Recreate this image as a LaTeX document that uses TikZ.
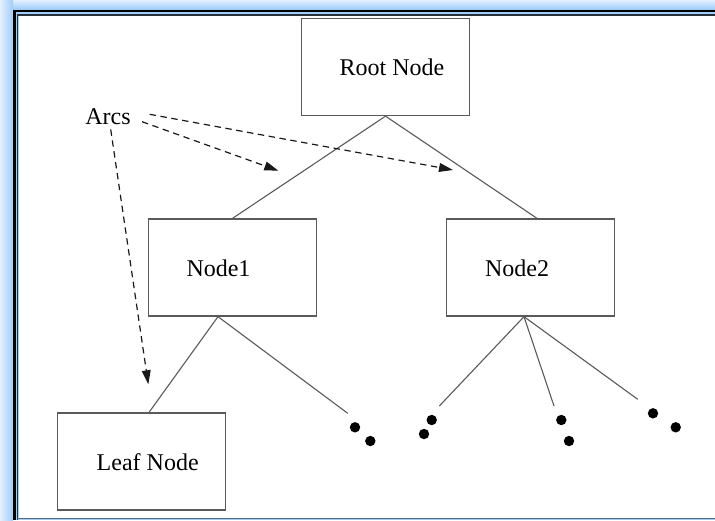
\documentclass[tikz,border=0pt]{standalone}
\usepackage{fontspec}
\setmainfont{Liberation Serif}
\usetikzlibrary{arrows.meta}
\definecolor{glowblue}{RGB}{160,204,248}
\definecolor{glowlight}{RGB}{226,240,255}
\definecolor{framegray}{RGB}{40,48,60}
\definecolor{slate}{RGB}{88,104,120}
\definecolor{boxgray}{RGB}{90,90,90}
\definecolor{linegray}{RGB}{90,90,90}

\begin{document}
\begin{tikzpicture}[x=0.5pt, y=-0.5pt, font=\fontsize{12}{14}\selectfont,
  treebox/.style={draw=boxgray, line width=0.65pt, minimum width=84pt, minimum height=48.5pt, inner sep=0pt},
  branch/.style={draw=linegray, line width=0.55pt},
  arcarrow/.style={draw=black!90, line width=0.6pt, dash pattern=on 3.2pt off 2.3pt, -{Triangle[length=7pt,width=4.4pt]}},
  leafdot/.style={circle, fill=black, inner sep=0pt, minimum size=5.2pt}]

\useasboundingbox (0,0) rectangle (715,520);

% frame
\shade[top color=glowlight, bottom color=glowblue] (0,0) rectangle (715,9);
\shade[left color=glowlight, right color=glowblue] (0,0) rectangle (13,520);
\fill[glowblue] (13,9) rectangle (715,520);
\fill[white] (18.5,16) rectangle (715,517.5);
\draw[line width=1.2pt, black] (14.5,520) -- (14.5,10.8) -- (715,10.8);
\draw[line width=0.75pt, framegray] (17.3,520) -- (17.3,15) -- (715,15);
\draw[line width=0.75pt, slate] (17.3,518.5) -- (715,518.5);

\node[treebox] (root) at (385.5,67) {};
\node (rootlbl) at (392,67) {Root Node};

\node[treebox] (node1) at (232.5,267.5) {};
\node (node1lbl) at (218.5,268) {Node1};

\node[treebox] (node2) at (530.5,267.5) {};
\node (node2lbl) at (517,268) {Node2};

\node[treebox] (leaf) at (141.3,461.5) {};
\node (leaflbl) at (147.7,461.7) {Leaf Node};

\node[inner sep=2pt] (arcs) at (108,117) {Arcs};

% branch ends and dots
\coordinate (end1) at (347.7,413.3);
\coordinate (end2) at (439.3,406);
\coordinate (end3) at (554,406);
\coordinate (end4) at (637.7,399.3);
\node[leafdot] (dot1a) at (355,427.3) {};
\node[leafdot] (dot1b) at (370.3,441) {};
\node[leafdot] (dot2a) at (431.7,420) {};
\node[leafdot] (dot2b) at (424,434) {};
\node[leafdot] (dot3a) at (561.3,420) {};
\node[leafdot] (dot3b) at (569,441) {};
\node[leafdot] (dot4a) at (653,413.3) {};
\node[leafdot] (dot4b) at (675.7,427.3) {};

\draw[branch] (root.south) -- (node1.north);
\draw[branch] (root.south) -- ([xshift=3.25pt]node2.north);
\draw[branch] ([xshift=-7.25pt]node1.south) -- ([xshift=3.85pt]leaf.north);
\draw[branch] ([xshift=-7.25pt]node1.south) -- (end1);
\draw[branch] ([xshift=-3.25pt]node2.south) -- (end2);
\draw[branch] ([xshift=-3.25pt]node2.south) -- (end3);
\draw[branch] ([xshift=-3.25pt]node2.south) -- (end4);

% arcs pointers
\coordinate (tip1) at (453,170);
\coordinate (tip2) at (278.3,170.7);
\coordinate (tip3) at (148.3,384.3);
\draw[arcarrow] ([shift={(14.6,-2.7)}]arcs.east) -- (tip1);
\draw[arcarrow] ([shift={(7,4.7)}]arcs.east) -- (tip2);
\draw[arcarrow] ([shift={(2.7,0)}]arcs.south) -- (tip3);
\end{tikzpicture}
\end{document}
